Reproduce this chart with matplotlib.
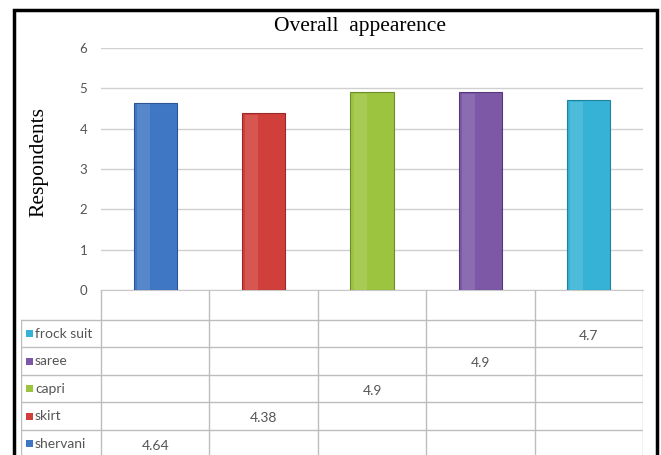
import matplotlib.pyplot as plt
import numpy as np
from matplotlib.patches import Rectangle

# data
series = ["shervani", "skirt", "capri", "saree", "frock suit"]
values = [4.64, 4.38, 4.9, 4.9, 4.7]
labels = ["4.64", "4.38", "4.9", "4.9", "4.7"]
colors = ["#3f77c4", "#d13f3b", "#9cc43f", "#7c58a6", "#35b2d6"]
edges = ["#2a5590", "#9a2a27", "#6e8d2a", "#56397a", "#22829e"]
yticks = [0, 1, 2, 3, 4, 5, 6]

W, H = 661, 455
fig = plt.figure(figsize=(W / 100, H / 100), dpi=100)


def box(x0, y0, x1, y1):
    # pixel box (top-left origin) -> figure fraction rect
    return [x0 / W, 1 - y1 / H, (x1 - x0) / W, (y1 - y0) / H]


ax = fig.add_axes(box(101, 48, 643, 290))
x = np.arange(len(series))
ax.bar(x, values, width=0.4, color=colors, edgecolor=edges, linewidth=0.8, zorder=3)
# soft highlight down the left part of each bar
for xi, v in zip(x, values):
    ax.add_patch(Rectangle((xi - 0.17, 0), 0.12, v - 0.04, color="white",
                           alpha=0.12, lw=0, zorder=4))
ax.set_xlim(-0.5, len(series) - 0.5)
ax.set_ylim(0, 6)
ax.set_yticks(yticks)
ax.set_xticks([])
ax.tick_params(axis="y", length=0, pad=10, labelsize=9.5, labelcolor="#555555")
for t in ax.get_yticklabels():
    t.set_family("Lato")
ax.grid(axis="y", color="#d0d0d0", lw=1, zorder=0)
for s in ["top", "right", "left"]:
    ax.spines[s].set_visible(False)
ax.spines["bottom"].set_color("#c8c8c8")

fig.text(360 / W, 1 - 27 / H, "Overall  appearence", ha="center", va="center",
         family="Liberation Serif", fontsize=15.5)
fig.text(39 / W, 1 - 162 / H, "Respondents", ha="center", va="center",
         rotation=90, family="Liberation Serif", fontsize=15.5)

# data table under the chart
tab = fig.add_axes(box(21, 290, 643, 455))
tab.set_xlim(21, 643)
tab.set_ylim(455, 290)
tab.axis("off")
col_edges = np.linspace(101, 643, len(series) + 1)
row_top = 320
row_h = 27.5
lc = "#bdbdbd"
for cx in col_edges:
    tab.plot([cx, cx], [290, 455], color=lc, lw=1)
tab.plot([21, 21], [row_top, 455], color=lc, lw=1)
rows = series[::-1]
for r in range(len(rows) + 1):
    yy = row_top + r * row_h
    tab.plot([21, 643], [yy, yy], color=lc, lw=1)
for r, name in enumerate(rows):
    yc = row_top + (r + 0.5) * row_h
    i = series.index(name)
    tab.add_patch(Rectangle((26, yc - 3.5), 7, 7, color=colors[i], lw=0))
    tab.text(35, yc, name, va="center", ha="left", fontsize=10, color="#555555",
             family="Lato")
    cc = (col_edges[i] + col_edges[i + 1]) / 2
    tab.text(cc, yc + 2, labels[i], va="center", ha="center", fontsize=10,
             color="#555555", family="Lato")

# outer frame
fig.add_artist(Rectangle((14 / W, -0.02), (643 / W), 1 - 10 / H + 0.02,
                         transform=fig.transFigure, fill=False, ec="black", lw=2.5))

fig.savefig("out.png", dpi=100)
